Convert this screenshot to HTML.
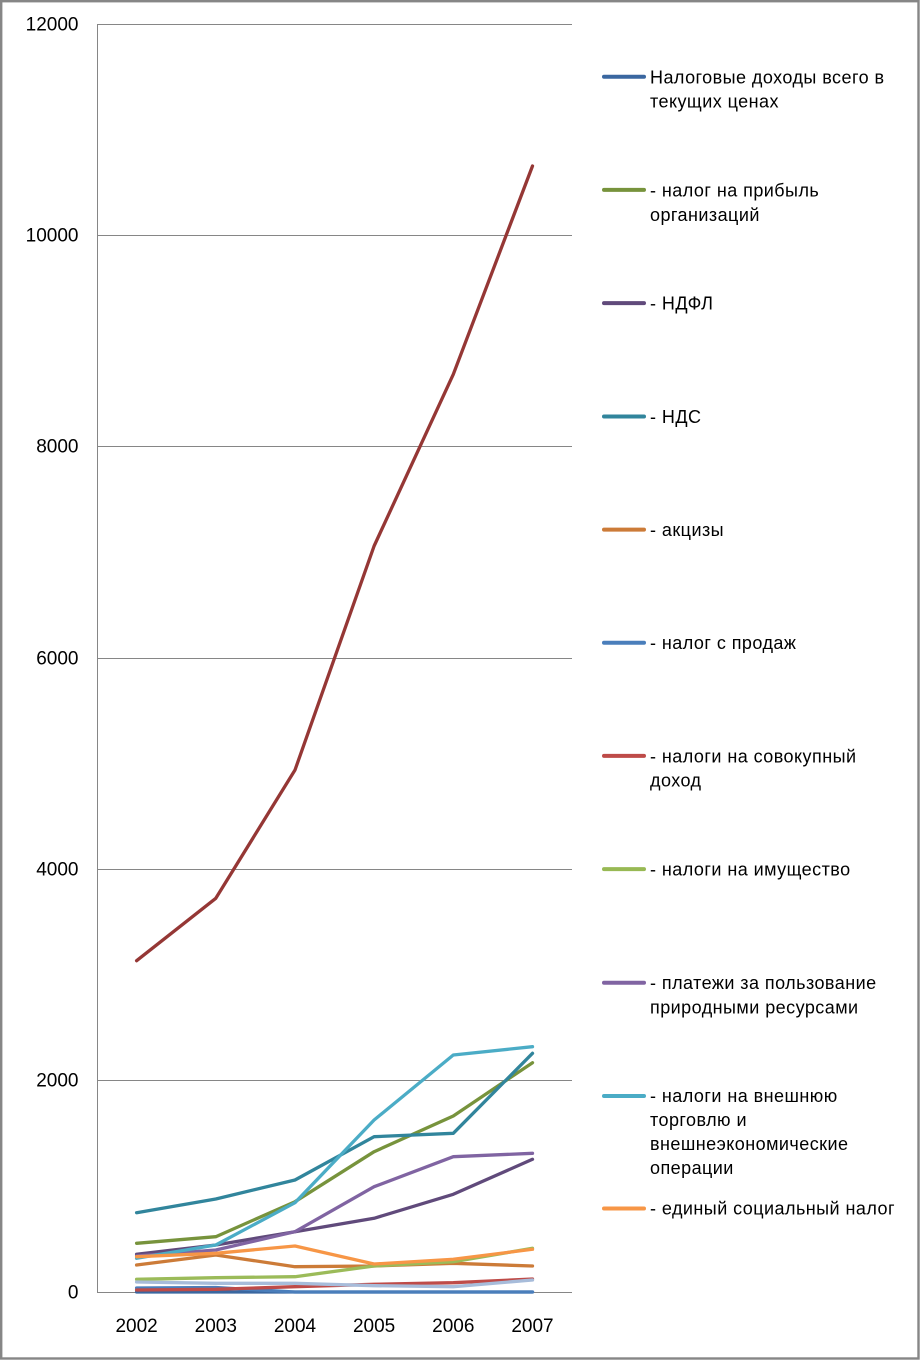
<!DOCTYPE html>
<html>
<head>
<meta charset="utf-8">
<style>
html,body{margin:0;padding:0;background:#fff;}
svg{display:block;}
text{font-family:"Liberation Sans","DejaVu Sans",sans-serif;fill:#000;}
.yl{font-size:19px;text-anchor:end;}
.xl{font-size:19px;text-anchor:middle;}
.lg{font-size:18px;letter-spacing:0.45px;}
.s{fill:none;stroke-width:3.3;stroke-linejoin:round;stroke-linecap:round;}
</style>
</head>
<body>
<svg width="920" height="1360" viewBox="0 0 920 1360" xmlns="http://www.w3.org/2000/svg">
<rect x="0" y="0" width="920" height="1360" fill="#fff"/>
<rect x="1.2" y="1.2" width="917.3" height="1357.3" fill="none" stroke="#868686" stroke-width="2.4"/>

<!-- gridlines -->
<g stroke="#868686" stroke-width="1">
<line x1="97" y1="24.5" x2="572" y2="24.5"/>
<line x1="97" y1="235.5" x2="572" y2="235.5"/>
<line x1="97" y1="446.5" x2="572" y2="446.5"/>
<line x1="97" y1="658.5" x2="572" y2="658.5"/>
<line x1="97" y1="869.5" x2="572" y2="869.5"/>
<line x1="97" y1="1080.5" x2="572" y2="1080.5"/>
<line x1="97" y1="1292.5" x2="572" y2="1292.5"/>
<line x1="97.5" y1="24" x2="97.5" y2="1293"/>
</g>

<!-- y labels -->
<text class="yl" x="78.5" y="30.5">12000</text>
<text class="yl" x="78.5" y="241.5">10000</text>
<text class="yl" x="78.5" y="452.5">8000</text>
<text class="yl" x="78.5" y="664.5">6000</text>
<text class="yl" x="78.5" y="875.5">4000</text>
<text class="yl" x="78.5" y="1086.5">2000</text>
<text class="yl" x="78.5" y="1298.5">0</text>

<!-- x labels -->
<text class="xl" x="136.6" y="1332">2002</text>
<text class="xl" x="215.8" y="1332">2003</text>
<text class="xl" x="295" y="1332">2004</text>
<text class="xl" x="374.1" y="1332">2005</text>
<text class="xl" x="453.3" y="1332">2006</text>
<text class="xl" x="532.5" y="1332">2007</text>

<!-- series -->
<polyline class="s" stroke="#3A67A0" points="136.6,1292 215.8,1292 295,1292 374.1,1292 453.3,1292 532.5,1292"/>
<polyline class="s" stroke="#77933C" points="136.6,1243.3 215.8,1236.7 295,1201.7 374.1,1151.7 453.3,1116 532.5,1062.7"/>
<polyline class="s" stroke="#604A7B" points="136.6,1254.3 215.8,1245 295,1231.7 374.1,1218.3 453.3,1194.3 532.5,1159.3"/>
<polyline class="s" stroke="#31859C" points="136.6,1212.7 215.8,1199 295,1180 374.1,1136.7 453.3,1133.3 532.5,1053.3"/>
<polyline class="s" stroke="#CC7B38" points="136.6,1265 215.8,1255 295,1266.7 374.1,1266 453.3,1263.3 532.5,1266"/>
<polyline class="s" stroke="#4A7EBB" points="136.6,1288 215.8,1287.5 295,1292 374.1,1292 453.3,1292 532.5,1292"/>
<polyline class="s" stroke="#BE4B48" points="136.6,1290 215.8,1289.3 295,1286.7 374.1,1284.3 453.3,1282.7 532.5,1279"/>
<polyline class="s" stroke="#9BBB59" points="136.6,1279.3 215.8,1277.7 295,1276.7 374.1,1266 453.3,1261.7 532.5,1248.3"/>
<polyline class="s" stroke="#8064A2" points="136.6,1256 215.8,1250 295,1231.7 374.1,1186.7 453.3,1156.7 532.5,1153.3"/>
<polyline class="s" stroke="#4BACC6" points="136.6,1258.3 215.8,1245 295,1202.7 374.1,1120 453.3,1055 532.5,1046.7"/>
<polyline class="s" stroke="#F79646" points="136.6,1256.7 215.8,1253.3 295,1246 374.1,1264 453.3,1259.3 532.5,1249.3"/>
<polyline class="s" stroke="#953735" points="136.6,960.7 215.8,898.3 295,770 374.1,546 453.3,374.3 532.5,166"/>
<polyline class="s" stroke="#A7BCDA" points="136.6,1282 215.8,1283.3 295,1283.3 374.1,1285.7 453.3,1286.7 532.5,1280"/>

<!-- legend -->
<g stroke-width="4" stroke-linecap="round">
<line x1="604" y1="76.7" x2="644" y2="76.7" stroke="#3A67A0"/>
<line x1="604" y1="189.9" x2="644" y2="189.9" stroke="#77933C"/>
<line x1="604" y1="303.1" x2="644" y2="303.1" stroke="#604A7B"/>
<line x1="604" y1="416.5" x2="644" y2="416.5" stroke="#31859C"/>
<line x1="604" y1="529.6" x2="644" y2="529.6" stroke="#CC7B38"/>
<line x1="604" y1="642.8" x2="644" y2="642.8" stroke="#4A7EBB"/>
<line x1="604" y1="755.9" x2="644" y2="755.9" stroke="#BE4B48"/>
<line x1="604" y1="869.1" x2="644" y2="869.1" stroke="#98B954"/>
<line x1="604" y1="982.8" x2="644" y2="982.8" stroke="#8064A2"/>
<line x1="604" y1="1096" x2="644" y2="1096" stroke="#4BACC6"/>
<line x1="604" y1="1208.5" x2="644" y2="1208.5" stroke="#F79646"/>
</g>

<text class="lg" x="650" y="83.3">Налоговые доходы всего в</text>
<text class="lg" x="650" y="107.6">текущих ценах</text>
<text class="lg" x="650" y="196.5">- налог на прибыль</text>
<text class="lg" x="650" y="220.8">организаций</text>
<text class="lg" x="650" y="309.6">- НДФЛ</text>
<text class="lg" x="650" y="422.9">- НДС</text>
<text class="lg" x="650" y="536">- акцизы</text>
<text class="lg" x="650" y="649.2">- налог с продаж</text>
<text class="lg" x="650" y="762.3">- налоги на совокупный</text>
<text class="lg" x="650" y="786.6">доход</text>
<text class="lg" x="650" y="875.5">- налоги на имущество</text>
<text class="lg" x="650" y="989">- платежи за пользование</text>
<text class="lg" x="650" y="1013.3">природными ресурсами</text>
<text class="lg" x="650" y="1101.8">- налоги на внешнюю</text>
<text class="lg" x="650" y="1126">торговлю и</text>
<text class="lg" x="650" y="1150">внешнеэкономические</text>
<text class="lg" x="650" y="1174">операции</text>
<text class="lg" x="650" y="1214.5">- единый социальный налог</text>
</svg>
</body>
</html>
